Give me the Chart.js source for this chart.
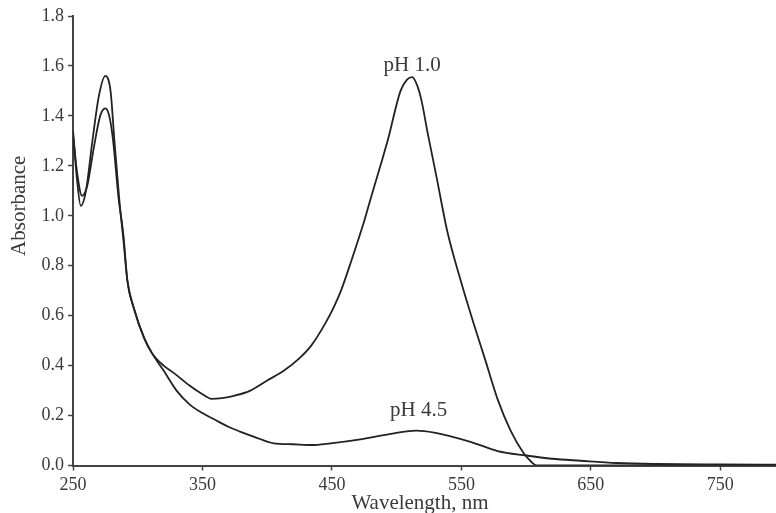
<!DOCTYPE html>
<html>
<head>
<meta charset="utf-8">
<script src="https://cdn.jsdelivr.net/npm/chart.js@4"></script>
<style>
    html, body { margin: 0; padding: 0; background: #fff; }
    #spectrum { display: block; }
</style>
</head>
<body>
<canvas id="spectrum" width="776" height="513"></canvas>
<script>
// Absorbance spectra
const wavelengthPh10 = [250, 253, 256, 260, 265, 270, 275, 279, 282, 286, 289, 292, 297, 305, 311, 320, 328, 340, 350, 357, 365, 375, 387, 400, 413, 425, 434, 445, 452, 457, 465, 475, 480, 488, 493, 503, 508, 512, 516, 519, 524, 531, 539, 549.5, 560, 568, 578, 588, 598, 604, 608, 620, 650, 700, 750, 793];
const absorbancePh10 = [1.34, 1.15, 1.04, 1.10, 1.30, 1.48, 1.56, 1.50, 1.30, 1.05, 0.90, 0.74, 0.63, 0.51, 0.45, 0.40, 0.37, 0.32, 0.285, 0.267, 0.27, 0.28, 0.30, 0.34, 0.38, 0.43, 0.48, 0.57, 0.64, 0.70, 0.82, 0.98, 1.07, 1.21, 1.30, 1.50, 1.545, 1.555, 1.52, 1.466, 1.33, 1.15, 0.94, 0.74, 0.56, 0.43, 0.265, 0.14, 0.05, 0.015, 0.0, 0.0, 0.0, 0.0, 0.0, 0.0];

const wavelengthPh45 = [250, 253, 257, 261, 266, 271, 275, 278, 281, 285, 289, 292, 297, 305, 311, 320, 330, 340, 350, 359, 370, 379, 390, 405, 420, 434, 449, 472, 498, 515, 529, 557, 578, 600, 620, 642, 670, 700, 750, 793];
const absorbancePh45 = [1.33, 1.18, 1.08, 1.12, 1.27, 1.40, 1.43, 1.40, 1.30, 1.08, 0.92, 0.74, 0.63, 0.51, 0.45, 0.38, 0.30, 0.245, 0.21, 0.185, 0.155, 0.136, 0.115, 0.089, 0.085, 0.082, 0.089, 0.105, 0.129, 0.14, 0.132, 0.095, 0.058, 0.04, 0.027, 0.019, 0.01, 0.006, 0.004, 0.003];

const xTicks = [250, 350, 450, 550, 650, 750];
const yTicks = [0, 0.2, 0.4, 0.6, 0.8, 1.0, 1.2, 1.4, 1.6, 1.8];

const curveLabels = [
    { text: 'pH 1.0', x: 512, y: 1.60 },
    { text: 'pH 4.5', x: 517, y: 0.222 },
];

const ink = '#222';
const textColor = '#3a3a3a';
const serif = '"Liberation Serif", "DejaVu Serif", serif';

const toPoints = (xs, ys) => xs.map((x, i) => ({ x, y: ys[i] }));

const annotations = {
    id: 'annotations',
    afterDraw(chart) {
        const { ctx, scales: { x, y }, chartArea } = chart;
        ctx.save();
        ctx.fillStyle = textColor;
        ctx.textAlign = 'center';
        ctx.textBaseline = 'middle';
        ctx.font = '21px ' + serif;
        curveLabels.forEach(label => {
            ctx.fillText(label.text, x.getPixelForValue(label.x), y.getPixelForValue(label.y));
        });

        // axis titles
        ctx.fillText('Wavelength, nm', x.getPixelForValue(518), chartArea.bottom + 38);
        ctx.translate(19, y.getPixelForValue(1.04));
        ctx.rotate(-Math.PI / 2);
        ctx.fillText('Absorbance', 0, 0);
        ctx.restore();
    },
};

const lineStyle = {
    borderColor: ink,
    borderWidth: 1.8,
    pointRadius: 0,
    cubicInterpolationMode: 'monotone',
    fill: false,
};

new Chart(document.getElementById('spectrum'), {
    type: 'line',
    data: {
        datasets: [
            { label: 'pH 1.0', data: toPoints(wavelengthPh10, absorbancePh10), ...lineStyle },
            { label: 'pH 4.5', data: toPoints(wavelengthPh45, absorbancePh45), ...lineStyle },
        ],
    },
    options: {
        responsive: false,
        animation: false,
        layout: {
            padding: { top: 16, right: 0, left: 0, bottom: 0 },
        },
        scales: {
            x: {
                type: 'linear',
                min: 250,
                max: 793,
                afterBuildTicks: scale => {
                    scale.ticks = xTicks.map(value => ({ value }));
                },
                afterFit: scale => {
                    scale.height = 47.5;
                },
                ticks: {
                    color: textColor,
                    font: { family: serif, size: 18 },
                    padding: 4,
                    maxRotation: 0,
                },
                grid: {
                    drawOnChartArea: false,
                    drawTicks: true,
                    tickLength: 5,
                    tickColor: '#444',
                    tickWidth: 1.5,
                },
                border: { color: '#444', width: 2 },
            },
            y: {
                min: 0,
                max: 1.8,
                afterBuildTicks: scale => {
                    scale.ticks = yTicks.map(value => ({ value }));
                },
                afterFit: scale => {
                    scale.width = 73;
                },
                ticks: {
                    color: textColor,
                    font: { family: serif, size: 18 },
                    padding: 4,
                    callback: value => value.toFixed(1),
                },
                grid: {
                    drawOnChartArea: false,
                    drawTicks: true,
                    tickLength: 5,
                    tickColor: '#444',
                    tickWidth: 1.5,
                },
                border: { color: '#444', width: 2 },
            },
        },
        plugins: {
            legend: { display: false },
            tooltip: { enabled: false },
        },
    },
    plugins: [annotations],
});
</script>
</body>
</html>
